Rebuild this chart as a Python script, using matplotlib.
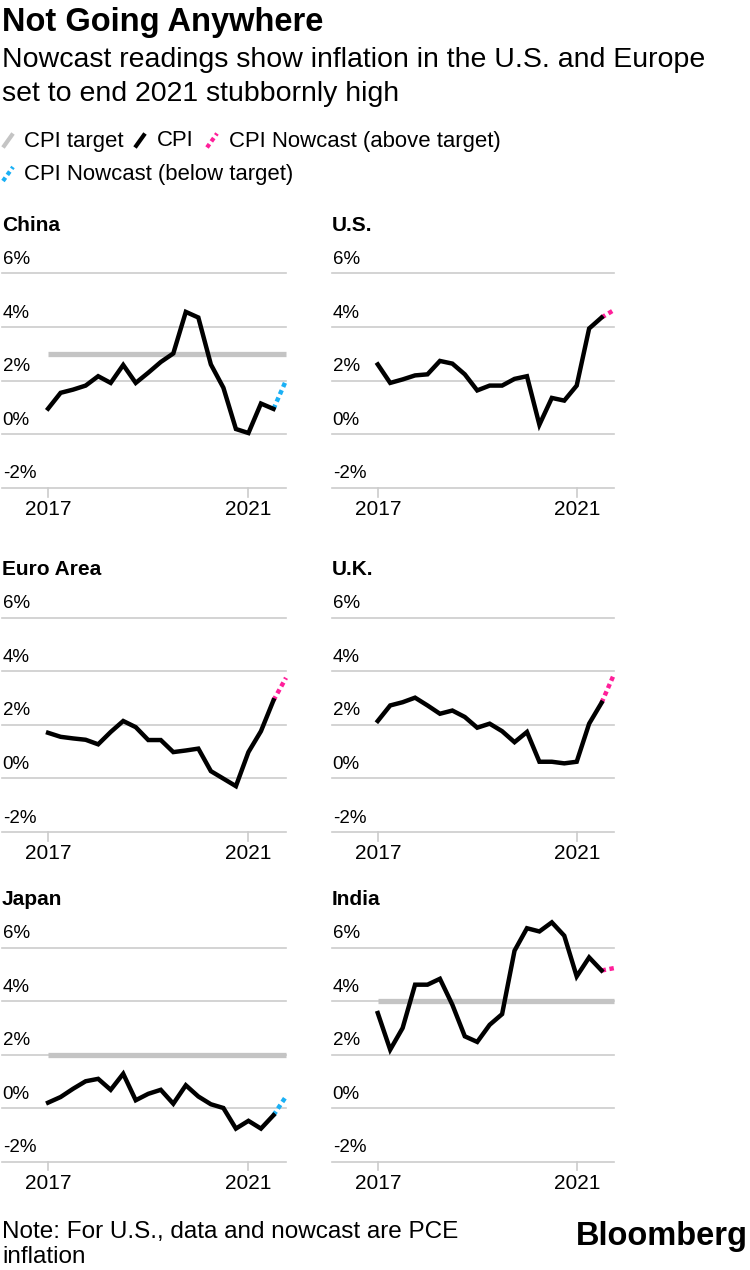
import numpy as np
import pandas as pd
import matplotlib
matplotlib.use('Agg')
import matplotlib.pyplot as plt
from matplotlib.lines import Line2D
import matplotlib.transforms as mtransforms

plt.rcParams['font.family'] = ['Liberation Sans', 'DejaVu Sans']

# quarterly readings, 2017Q1 .. 2021Q3, plus one nowcast point for 2021Q4
dates = pd.date_range('2017-01-01', '2021-07-01', freq='QS')
nowcast_date = pd.Timestamp('2021-10-01')

countries = ['China', 'U.S.', 'Euro Area', 'U.K.', 'Japan', 'India']

china = [0.95, 1.54, 1.66, 1.81, 2.16, 1.91, 2.58, 1.91, 2.29, 2.69, 3.01, 4.56, 4.35, 2.60, 1.73, 0.19, 0.04, 1.14, 0.94]
us = [2.60, 1.91, 2.04, 2.19, 2.23, 2.73, 2.63, 2.23, 1.63, 1.81, 1.81, 2.06, 2.16, 0.35, 1.35, 1.25, 1.81, 3.94, 4.35]
euro = [1.70, 1.55, 1.49, 1.44, 1.27, 1.73, 2.14, 1.91, 1.43, 1.43, 0.98, 1.04, 1.11, 0.27, -0.01, -0.29, 0.98, 1.76, 2.91]
uk = [2.14, 2.72, 2.84, 3.01, 2.72, 2.41, 2.53, 2.29, 1.89, 2.04, 1.76, 1.35, 1.73, 0.62, 0.62, 0.56, 0.62, 2.04, 2.82]
japan = [0.20, 0.41, 0.72, 1.00, 1.09, 0.68, 1.28, 0.29, 0.53, 0.68, 0.16, 0.85, 0.43, 0.14, 0.00, -0.77, -0.48, -0.77, -0.27]
india = [3.55, 2.18, 2.99, 4.61, 4.61, 4.83, 3.86, 2.68, 2.47, 3.11, 3.51, 5.88, 6.72, 6.60, 6.94, 6.44, 4.92, 5.63, 5.14]

cpi = [china, us, euro, uk, japan, india]
nowcast = [2.0, 4.63, 3.75, 3.88, 0.43, 5.23]
nowcast_side = ['below', 'above', 'above', 'above', 'below', 'above']
targets = [3, None, None, None, 2, 4]

yticks = [-2, 0, 2, 4, 6]
ytick_labels = ['-2%', '0%', '2%', '4%', '6%']
xticks = [2017, 2021]

GRID = '#cccccc'
TARGET = '#c4c4c4'
PINK = '#ff1f9a'
BLUE = '#1ab0f5'
side_color = {'above': PINK, 'below': BLUE}


def decimal_year(d):
    return d.year + (d.month - 1) / 12.0


x = np.array([decimal_year(d) for d in dates])
x_now = decimal_year(nowcast_date)

fig = plt.figure(figsize=(7.5, 12.7), dpi=100)
W, H = 750.0, 1270.0


def px_axes(left, top, right, bottom):
    return fig.add_axes([left / W, 1 - bottom / H, (right - left) / W, (bottom - top) / H])


col_px = [(2, 286), (332, 614)]
row_px = [(273.3, 487.7), (617.5, 832.0), (947.5, 1161.5)]

for k, name in enumerate(countries):
    r, c = divmod(k, 2)
    left, right = col_px[c]
    top, bottom = row_px[r]
    ax = px_axes(left, top, right, bottom)
    ax.set_xlim(2016.08, 2021.75)
    ax.set_ylim(-2, 6)
    ax.axis('off')
    for v in yticks:
        ax.axhline(v, color=GRID, lw=1.2, zorder=1, clip_on=False)
    trans = mtransforms.blended_transform_factory(ax.transAxes, ax.transData)
    for v, lab in zip(yticks, ytick_labels):
        ax.annotate(lab, xy=(0, v), xycoords=trans, xytext=(0.5, 6.7),
                    textcoords='offset points', ha='left', va='baseline',
                    fontsize=13.5, color='black')
    for t in xticks:
        ax.add_line(Line2D([t, t], [-2, -2.33], color=GRID, lw=1.2, clip_on=False))
        ax.annotate(str(t), xy=(t, -2), xycoords='data', xytext=(0, -19.7),
                    textcoords='offset points', ha='center', va='baseline',
                    fontsize=15, color='black', annotation_clip=False)
    if targets[k] is not None:
        ax.plot([x[0], 2021.75], [targets[k], targets[k]], color=TARGET,
                lw=3.8, solid_capstyle='butt', zorder=2, clip_on=False)
    ax.plot(x, cpi[k], color='black', lw=3.2, zorder=4, clip_on=False,
            solid_joinstyle='miter')
    ax.plot([x[-1], x_now], [cpi[k][-1], nowcast[k]], color=side_color[nowcast_side[k]],
            lw=3.2, dashes=(1, 0.8), zorder=3, clip_on=False)
    ax.annotate(name, xy=(0, 1), xycoords='axes fraction', xytext=(0, 30.6),
                textcoords='offset points', ha='left', va='baseline',
                fontsize=15, fontweight='bold', color='black')


def fpx(px, py):
    return px / W, 1 - py / H


fig.text(*fpx(2, 31), 'Not Going Anywhere', fontsize=23.5, fontweight='bold', va='baseline')
fig.text(*fpx(2, 67), 'Nowcast readings show inflation in the U.S. and Europe', fontsize=20.5, va='baseline')
fig.text(*fpx(2, 101), 'set to end 2021 stubbornly high', fontsize=20.5, va='baseline')

# legend
legend_items = [
    ('CPI target', TARGET, 'solid', 3, 146.5, 24),
    ('CPI', 'black', 'solid', 135, 146.5, 157),
    ('CPI Nowcast (above target)', PINK, 'dot', 207, 146.5, 229),
    ('CPI Nowcast (below target)', BLUE, 'dot', 3, 180, 24),
]
for label, col, style, ix, base, tx in legend_items:
    x0, y0 = fpx(ix, base + 1)
    x1, y1 = fpx(ix + 10, base - 13)
    ln = Line2D([x0, x1], [y0, y1], color=col, lw=3.0, transform=fig.transFigure,
                solid_capstyle='butt')
    if style == 'dot':
        ln.set_dashes((1, 0.8))
    fig.add_artist(ln)
    fig.text(*fpx(tx, base), label, fontsize=15.9, va='baseline')

fig.text(*fpx(2, 1238), 'Note: For U.S., data and nowcast are PCE', fontsize=17.5, va='baseline')
fig.text(*fpx(2, 1263), 'inflation', fontsize=17.5, va='baseline')
fig.text(*fpx(748, 1245), 'Bloomberg', fontsize=23.5, fontweight='bold', ha='right', va='baseline')

fig.savefig('out.png', dpi=100)
